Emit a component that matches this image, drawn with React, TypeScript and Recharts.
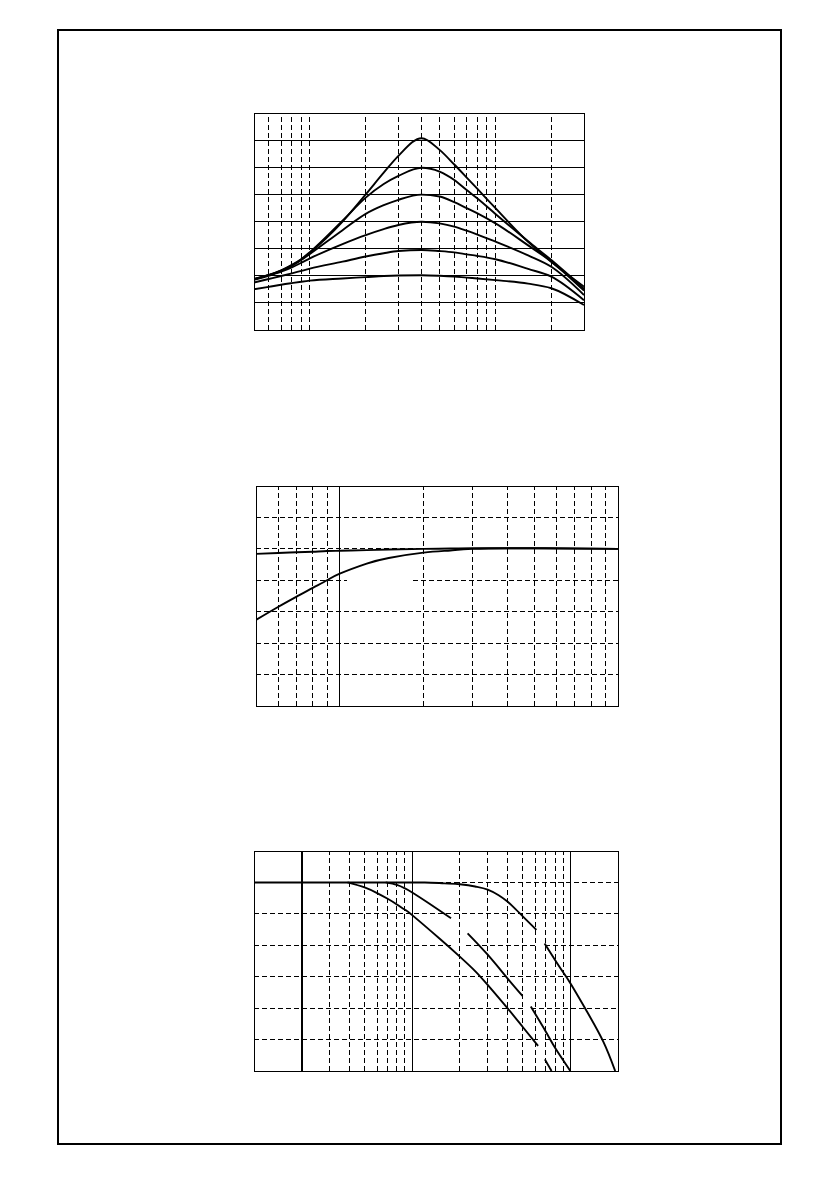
import React from 'react';
import { LineChart, Line, XAxis, YAxis, ReferenceLine, ReferenceArea } from 'recharts';

// ---- chart 1: six bell-shaped curves, log x 0.5..30, y 0..8
const x1Vals = [0.5, 0.6, 0.7, 0.8, 0.9, 1, 1.5, 2, 2.5, 3, 4, 5, 6, 7, 8, 10, 15, 20, 30];
const c1 = [1.87, 2.02, 2.19, 2.38, 2.6, 2.85, 4.0, 5.0, 5.8, 6.42, 7.07, 6.64, 6.1, 5.62, 5.2, 4.49, 3.25, 2.52, 1.6];
const c2 = [1.88, 2.03, 2.2, 2.4, 2.62, 2.87, 4.03, 4.88, 5.38, 5.68, 5.98, 5.84, 5.53, 5.16, 4.85, 4.28, 3.27, 2.58, 1.52];
const c3 = [1.87, 2.02, 2.18, 2.37, 2.58, 2.8, 3.68, 4.28, 4.6, 4.8, 4.99, 4.92, 4.71, 4.49, 4.3, 3.93, 3.12, 2.52, 1.45];
const c4 = [1.85, 2.0, 2.15, 2.31, 2.48, 2.64, 3.17, 3.5, 3.72, 3.87, 3.99, 3.93, 3.81, 3.66, 3.52, 3.26, 2.75, 2.33, 1.29];
const c5 = [1.75, 1.88, 1.99, 2.09, 2.18, 2.26, 2.52, 2.71, 2.83, 2.91, 2.95, 2.91, 2.86, 2.79, 2.73, 2.61, 2.25, 1.97, 1.1];
const c6 = [1.5, 1.59, 1.67, 1.73, 1.78, 1.82, 1.9, 1.95, 1.99, 2.01, 2.02, 2.0, 1.97, 1.93, 1.9, 1.84, 1.71, 1.54, 0.92];
const chart1Dashed = [0.6, 0.7, 0.8, 0.9, 1, 2, 3, 4, 5, 6, 7, 8, 9, 10, 20];
const chart1Rows = [1, 2, 3, 4, 5, 6, 7];

// ---- chart 2: two rising curves, log x 0.5..10, y 0..7
const x2Vals = [0.5, 0.6, 0.7, 0.8, 0.9, 1, 1.25, 1.5, 2, 2.5, 3, 5, 10];
const upper2 = [4.84, 4.87, 4.89, 4.91, 4.93, 4.94, 4.96, 4.98, 5.0, 5.01, 5.02, 5.02, 5.0];
const lower2 = [2.74, 3.15, 3.48, 3.76, 4.0, 4.21, 4.53, 4.71, 4.88, 4.95, 5.0, 5.02, 5.0];
const chart2Dashed = [0.6, 0.7, 0.8, 0.9, 2, 3, 4, 5, 6, 7, 8, 9];
const chart2Solid = [1];
// [y, xFrom, xTo]
const chart2Rows: [number, number, number][] = [
  [1, 0.5, 10], [2, 0.5, 10], [3, 0.5, 10],
  [4, 0.5, 1.06], [4, 1.84, 10],
  [5, 0.5, 10], [6, 0.5, 10],
];

// ---- chart 3: falling curves with breaks, log x 0.1..20, y 0..7
const curveC1x = [0.1, 1, 1.2, 1.6, 2, 2.5, 3, 3.5, 4, 4.5, 5, 6.1];
const curveC1y = [6.0, 6.0, 6.0, 5.97, 5.94, 5.87, 5.77, 5.6, 5.39, 5.15, 4.92, 4.49];
const curveC2x = [6.87, 8, 9, 10, 12.7, 16.2, 19.2];
const curveC2y = [4.06, 3.53, 3.14, 2.79, 1.9, 0.92, 0];
const curveB1x = [0.68, 0.8, 0.9, 1, 1.28, 1.76];
const curveB1y = [6.0, 5.92, 5.81, 5.68, 5.33, 4.86];
const curveB2x = [2.24, 3, 4, 4.98];
const curveB2y = [4.38, 3.7, 2.95, 2.39];
const curveB3x = [5.62, 7, 8, 10];
const curveB3y = [2.05, 1.25, 0.74, 0];
const curveA1x = [0.39, 0.5, 0.6, 0.7, 0.8, 0.9, 1, 1.5, 2, 2.5, 3, 4, 5, 6.25];
const curveA1y = [6.0, 5.84, 5.66, 5.48, 5.3, 5.13, 4.96, 4.2, 3.64, 3.18, 2.74, 2.0, 1.4, 0.8];
const curveA2x = [6.9, 7.6];
const curveA2y = [0.37, 0];
const chart3Dashed = [0.3, 0.4, 0.5, 0.6, 0.7, 0.8, 0.9, 2, 3, 4, 5, 6, 7, 8, 9];
const chart3Solid = [1, 10];
const chart3Thick = [0.2];
const chart3Rows: [number, number, number][] = [
  [1, 0.1, 6.2], [1, 6.9, 20],
  [2, 0.1, 5.0], [2, 5.6, 20],
  [3, 0.1, 20],
  [4, 0.1, 1.8], [4, 2.2, 6.0], [4, 6.9, 20],
  [5, 0.1, 20], [6, 0.1, 20],
];

const zip = (xs: number[], ys: number[]) => xs.map((x, i) => ({ x, y: ys[i] }));

const chart1Data = x1Vals.map((x, i) => ({ x, c1: c1[i], c2: c2[i], c3: c3[i], c4: c4[i], c5: c5[i], c6: c6[i] }));
const chart2Data = x2Vals.map((x, i) => ({ x, upper: upper2[i], lower: lower2[i] }));
// first segment has a flat run, keep it monotone so it does not wobble
const chart3Segments = [
  { pts: zip(curveC1x, curveC1y), kind: 'monotone' },
  { pts: zip(curveC2x, curveC2y), kind: 'natural' },
  { pts: zip(curveB1x, curveB1y), kind: 'natural' },
  { pts: zip(curveB2x, curveB2y), kind: 'natural' },
  { pts: zip(curveB3x, curveB3y), kind: 'natural' },
  { pts: zip(curveA1x, curveA1y), kind: 'natural' },
  { pts: zip(curveA2x, curveA2y), kind: 'linear' },
];

const DASH = '5 3';
const M = { top: 5, right: 5, bottom: 5, left: 5 };
const curveProps = { stroke: '#000', strokeWidth: 1.9, dot: false, isAnimationActive: false };
const gridProps = { stroke: '#000', strokeWidth: 1, shapeRendering: 'crispEdges' };

const Frame = ({ x, y }: { x: [number, number]; y: [number, number] }) => (
  <ReferenceArea x1={x[0]} x2={x[1]} y1={y[0]} y2={y[1]} fill="none" stroke="#000" strokeWidth={1} shapeRendering="crispEdges" ifOverflow="visible" />
);

export default function App() {
  return (
    <div style={{ position: 'absolute', left: 0, top: 0, width: 840, height: 1192, background: '#fff' }}>
      <div style={{ position: 'absolute', left: 57, top: 29, width: 725, height: 1116, border: '2px solid #000', boxSizing: 'border-box' }} />

      {/* chart 1 */}
      <div style={{ position: 'absolute', left: 249, top: 108 }}>
        <LineChart width={340} height={227} data={chart1Data} margin={M}>
          <XAxis dataKey="x" type="number" scale="log" domain={[0.5, 30]} allowDataOverflow hide />
          <YAxis type="number" domain={[0, 8]} allowDataOverflow hide />
          {chart1Rows.map((r) => (
            <ReferenceLine key={'r' + r} y={r} {...gridProps} />
          ))}
          {chart1Dashed.map((v) => (
            <ReferenceLine key={'v' + v} x={v} {...gridProps} strokeDasharray={DASH} />
          ))}
          <Frame x={[0.5, 30]} y={[0, 8]} />
          {['c1', 'c2', 'c3', 'c4', 'c5', 'c6'].map((k) => (
            <Line key={k} dataKey={k} type="monotone" {...curveProps} />
          ))}
        </LineChart>
      </div>

      {/* chart 2 */}
      <div style={{ position: 'absolute', left: 251, top: 481 }}>
        <LineChart width={372} height={230} data={chart2Data} margin={M}>
          <XAxis dataKey="x" type="number" scale="log" domain={[0.5, 10]} allowDataOverflow hide />
          <YAxis type="number" domain={[0, 7]} allowDataOverflow hide />
          {chart2Rows.map(([y, a, b], i) => (
            <ReferenceLine key={'r' + i} segment={[{ x: a, y }, { x: b, y }]} {...gridProps} strokeDasharray={DASH} />
          ))}
          {chart2Dashed.map((v) => (
            <ReferenceLine key={'v' + v} x={v} {...gridProps} strokeDasharray={DASH} />
          ))}
          {chart2Solid.map((v) => (
            <ReferenceLine key={'s' + v} x={v} {...gridProps} />
          ))}
          <Frame x={[0.5, 10]} y={[0, 7]} />
          <Line dataKey="upper" type="monotone" {...curveProps} />
          <Line dataKey="lower" type="natural" {...curveProps} />
        </LineChart>
      </div>

      {/* chart 3 */}
      <div style={{ position: 'absolute', left: 249, top: 846 }}>
        <LineChart width={374} height={230} margin={M}>
          <XAxis dataKey="x" type="number" scale="log" domain={[0.1, 20]} allowDataOverflow hide />
          <YAxis type="number" domain={[0, 7]} allowDataOverflow hide />
          {chart3Rows.map(([y, a, b], i) => (
            <ReferenceLine key={'r' + i} segment={[{ x: a, y }, { x: b, y }]} {...gridProps} strokeDasharray={DASH} />
          ))}
          {chart3Dashed.map((v) => (
            <ReferenceLine key={'v' + v} x={v} {...gridProps} strokeDasharray={DASH} />
          ))}
          {chart3Solid.map((v) => (
            <ReferenceLine key={'s' + v} x={v} {...gridProps} />
          ))}
          {chart3Thick.map((v) => (
            <ReferenceLine key={'t' + v} x={v} {...gridProps} strokeWidth={2} />
          ))}
          <Frame x={[0.1, 20]} y={[0, 7]} />
          {chart3Segments.map((seg, i) => (
            <Line key={'seg' + i} data={seg.pts} dataKey="y" type={seg.kind as any} {...curveProps} />
          ))}
        </LineChart>
      </div>
    </div>
  );
}
